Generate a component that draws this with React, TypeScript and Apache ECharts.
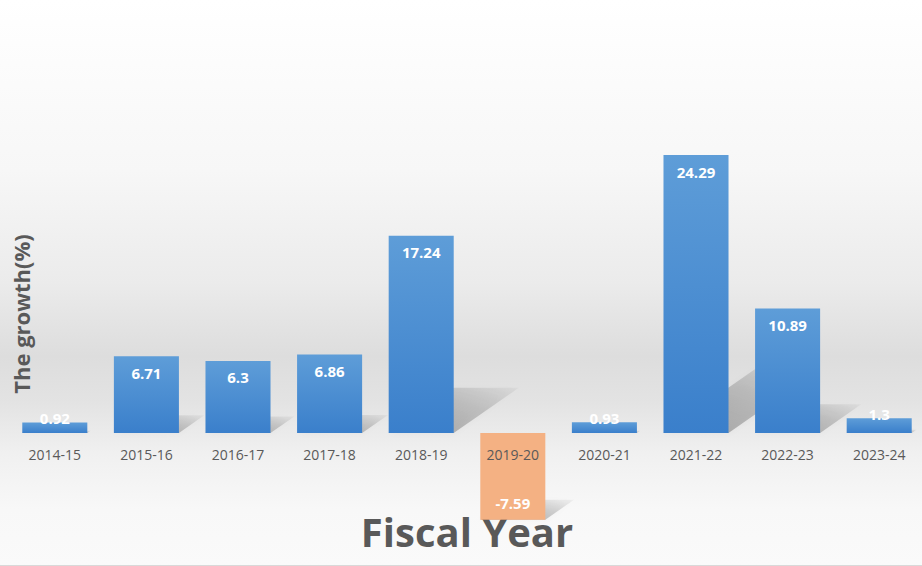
import React, { useEffect, useRef } from "react";
import * as echarts from "echarts";

const categories = ["2014-15", "2015-16", "2016-17", "2017-18", "2018-19", "2019-20", "2020-21", "2021-22", "2022-23", "2023-24"];
const growth = [0.92, 6.71, 6.3, 6.86, 17.24, -7.59, 0.93, 24.29, 10.89, 1.3];
const yAxisTitle = "The growth(%)";
const xAxisTitle = "Fiscal Year";

const FONT = "'Open Sans', 'Noto Sans', sans-serif";

const Y_MIN = -10;
const Y_MAX = 30;
const GRID_TOP = 89.8;
const GRID_BOTTOM = 18.6;
const GRID_H = 566 - GRID_TOP - GRID_BOTTOM;
// distance from grid bottom up to the zero line
const ZERO_OFFSET = (GRID_H * (0 - Y_MIN)) / (Y_MAX - Y_MIN);

export default function App() {
  const ref = useRef<HTMLDivElement>(null);

  useEffect(() => {
    if (!ref.current) return;
    const chart = echarts.init(ref.current, undefined, { renderer: "svg" });

    const barData = growth.map((v) => {
      const neg = v < 0;
      const small = v >= 0 && v < 3;
      return {
        value: v,
        itemStyle: neg
          ? { color: "#F4B183" }
          : {
              color: new echarts.graphic.LinearGradient(0, 0, 0, 1, [
                { offset: 0, color: "#5E9DD8" },
                { offset: 1, color: "#3A7FCB" },
              ]),
            },
        label: neg
          ? { position: "insideBottom", distance: 9 }
          : small
          ? { position: "top", distance: -3 }
          : { position: "insideTop", distance: 9 },
      };
    });

    const shadowData = growth.map((v, i) => [i, v]);

    chart.setOption({
      animation: false,
      backgroundColor: new echarts.graphic.LinearGradient(0, 0, 0, 1, [
        { offset: 0, color: "#ffffff" },
        { offset: 0.3, color: "#f7f7f7" },
        { offset: 0.5, color: "#ebebeb" },
        { offset: 0.63, color: "#dddddd" },
        { offset: 0.71, color: "#e3e3e3" },
        { offset: 0.8, color: "#f0f0f0" },
        { offset: 0.9, color: "#f8f8f8" },
        { offset: 1, color: "#fafafa" },
      ]),
      grid: {
        left: 9,
        right: -3,
        top: GRID_TOP,
        bottom: GRID_BOTTOM,
        containLabel: false,
        outerBoundsMode: "none",
      },
      xAxis: {
        type: "category",
        data: categories,
        position: "bottom",
        offset: -ZERO_OFFSET,
        z: 10,
        axisLine: { show: false, onZero: false },
        axisTick: { show: false },
        axisLabel: { color: "#595959", fontSize: 14, fontFamily: FONT, margin: 14 },
        splitLine: { show: false },
      },
      yAxis: {
        type: "value",
        min: Y_MIN,
        max: Y_MAX,
        interval: 10,
        axisLine: { show: false },
        axisTick: { show: false },
        axisLabel: { show: false },
        splitLine: { show: false },
      },
      series: [
        {
          type: "custom",
          z: 1,
          silent: true,
          data: shadowData,
          renderItem: (params: any, api: any) => {
            const idx = api.value(0);
            const v = api.value(1);
            const base = api.coord([idx, 0]);
            const end = api.coord([idx, v]);
            const cw = api.size([1, 0])[0];
            const bw = cw * 0.71;
            const xL = base[0] - bw / 2;
            const xR = xL + bw;
            const h = Math.abs(end[1] - base[1]);
            const yb = Math.max(base[1], end[1]);
            const dx = h * 0.33;
            const dy = h * 0.23;
            return {
              type: "polygon",
              shape: {
                points: [
                  [xL, yb],
                  [xR, yb],
                  [xR + dx, yb - dy],
                  [xL + dx, yb - dy],
                ],
              },
              style: {
                fill: new echarts.graphic.LinearGradient(0, 1, 1, 0, [
                  { offset: 0, color: "rgba(0,0,0,0.30)" },
                  { offset: 0.6, color: "rgba(0,0,0,0.16)" },
                  { offset: 1, color: "rgba(0,0,0,0.03)" },
                ]),
                shadowBlur: 6,
                shadowColor: "rgba(0,0,0,0.12)",
              },
            };
          },
        },
        {
          type: "bar",
          z: 2,
          data: barData,
          barCategoryGap: "29%",
          label: {
            show: true,
            color: "#ffffff",
            fontSize: 15,
            fontWeight: "bold",
            fontFamily: FONT,
          },
        },
      ],
      graphic: [
        {
          type: "text",
          x: 21,
          y: 314,
          rotation: Math.PI / 2,
          style: {
            text: yAxisTitle,
            fill: "#595959",
            font: `bold 22px ${FONT}`,
            textAlign: "center",
            textVerticalAlign: "middle",
          },
        },
        {
          type: "text",
          x: 467,
          y: 531,
          style: {
            text: xAxisTitle,
            fill: "#595959",
            font: `bold 40px ${FONT}`,
            textAlign: "center",
            textVerticalAlign: "middle",
          },
        },
        {
          type: "rect",
          shape: { x: 0, y: 565, width: 922, height: 1 },
          style: { fill: "#d9d9d9" },
        },
      ],
    });

    return () => chart.dispose();
  }, []);

  return (
    <div
      ref={ref}
      style={{ position: "fixed", left: 0, top: 0, width: 922, height: 566 }}
    />
  );
}
